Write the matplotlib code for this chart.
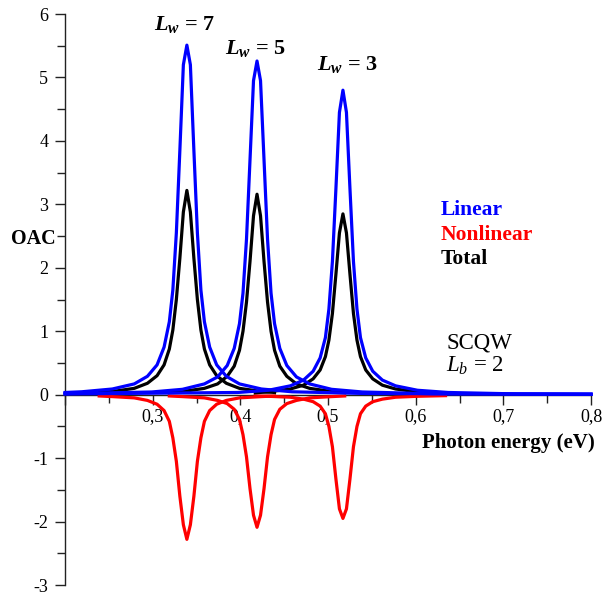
import matplotlib
matplotlib.use("Agg")
import matplotlib.pyplot as plt
from matplotlib.ticker import MultipleLocator, FuncFormatter

plt.rcParams["font.family"] = ["Liberation Serif", "DejaVu Serif"]
plt.rcParams["mathtext.fontset"] = "custom"
plt.rcParams["mathtext.rm"] = "Liberation Serif"
plt.rcParams["mathtext.it"] = "Liberation Serif:italic"
plt.rcParams["mathtext.bf"] = "Liberation Serif:bold"
plt.rcParams["mathtext.bfit"] = "Liberation Serif:italic:bold"
plt.rcParams["axes.unicode_minus"] = False

# values
# Lw = 7
x_lin_7 = [0.200, 0.219, 0.254, 0.279, 0.294, 0.305, 0.313, 0.319, 0.323, 0.327, 0.331, 0.335, 0.339,
           0.343, 0.347, 0.351, 0.355, 0.359, 0.365, 0.373, 0.384, 0.399, 0.424, 0.459, 0.539, 0.800]
linear_7 = [0.035, 0.046, 0.09, 0.17, 0.29, 0.47, 0.75, 1.15, 1.65, 2.55, 3.85, 5.20, 5.51,
            5.20, 3.85, 2.55, 1.65, 1.15, 0.75, 0.47, 0.29, 0.17, 0.09, 0.046, 0.02, 0.006]
x_nl_7 = [0.239, 0.254, 0.279, 0.294, 0.305, 0.313, 0.319, 0.323, 0.327, 0.331, 0.335, 0.339,
          0.343, 0.347, 0.351, 0.355, 0.359, 0.365, 0.373, 0.384, 0.399, 0.424, 0.439]
total_7 = [0.035, 0.05, 0.10, 0.18, 0.30, 0.47, 0.72, 1.02, 1.50, 2.15, 2.88, 3.22,
           2.88, 2.15, 1.50, 1.02, 0.72, 0.47, 0.30, 0.18, 0.10, 0.05, 0.035]
nonlinear_7 = [-0.02, -0.03, -0.05, -0.09, -0.15, -0.25, -0.42, -0.68, -1.05, -1.60, -2.05, -2.28,
               -2.05, -1.60, -1.05, -0.68, -0.42, -0.25, -0.15, -0.09, -0.05, -0.03, -0.02]

# Lw = 5
x_lin_5 = [0.200, 0.299, 0.334, 0.359, 0.374, 0.385, 0.393, 0.399, 0.403, 0.407, 0.411, 0.415, 0.419,
           0.423, 0.427, 0.431, 0.435, 0.439, 0.445, 0.453, 0.464, 0.479, 0.504, 0.539, 0.619, 0.800]
linear_5 = [0.015, 0.043, 0.085, 0.17, 0.28, 0.46, 0.73, 1.12, 1.60, 2.45, 3.70, 4.95, 5.26,
            4.95, 3.70, 2.45, 1.60, 1.12, 0.73, 0.46, 0.28, 0.17, 0.085, 0.043, 0.015, 0.008]
x_nl_5 = [0.319, 0.334, 0.359, 0.374, 0.385, 0.393, 0.399, 0.403, 0.407, 0.411, 0.415, 0.419,
          0.423, 0.427, 0.431, 0.435, 0.439, 0.445, 0.453, 0.464, 0.479, 0.504, 0.519]
total_5 = [0.035, 0.05, 0.10, 0.17, 0.29, 0.45, 0.70, 1.00, 1.46, 2.10, 2.82, 3.16,
           2.82, 2.10, 1.46, 1.00, 0.70, 0.45, 0.29, 0.17, 0.10, 0.05, 0.035]
nonlinear_5 = [-0.02, -0.03, -0.05, -0.09, -0.14, -0.23, -0.39, -0.63, -0.98, -1.48, -1.90, -2.09,
               -1.90, -1.48, -0.98, -0.63, -0.39, -0.23, -0.14, -0.09, -0.05, -0.03, -0.02]

# Lw = 3
x_lin_3 = [0.200, 0.397, 0.432, 0.457, 0.472, 0.483, 0.491, 0.497, 0.501, 0.505, 0.509, 0.513, 0.517,
           0.521, 0.525, 0.529, 0.533, 0.537, 0.543, 0.551, 0.562, 0.577, 0.602, 0.637, 0.717, 0.800]
linear_3 = [0.012, 0.035, 0.07, 0.14, 0.23, 0.37, 0.58, 0.90, 1.35, 2.10, 3.25, 4.45, 4.80,
            4.45, 3.25, 2.10, 1.35, 0.90, 0.58, 0.37, 0.23, 0.14, 0.07, 0.035, 0.012, 0.01]
x_nl_3 = [0.417, 0.432, 0.457, 0.472, 0.483, 0.491, 0.497, 0.501, 0.505, 0.509, 0.513, 0.517,
          0.521, 0.525, 0.529, 0.533, 0.537, 0.543, 0.551, 0.562, 0.577, 0.602, 0.634]
total_3 = [0.03, 0.045, 0.09, 0.15, 0.25, 0.39, 0.60, 0.86, 1.28, 1.90, 2.55, 2.85,
           2.55, 1.90, 1.28, 0.86, 0.60, 0.39, 0.25, 0.15, 0.09, 0.045, 0.025]
nonlinear_3 = [-0.02, -0.025, -0.04, -0.07, -0.11, -0.18, -0.30, -0.50, -0.82, -1.33, -1.80, -1.95,
               -1.80, -1.33, -0.82, -0.50, -0.30, -0.18, -0.11, -0.07, -0.04, -0.025, -0.015]

well_labels = ["7", "5", "3"]

BLUE = "#0000ff"
RED = "#ff0000"
LW = 2.3

fig = plt.figure(figsize=(6.03, 5.98), dpi=100)
ax = fig.add_axes([0.1078, 0.0217, 0.8724, 0.9548])

for xn, yn in [(x_nl_7, nonlinear_7), (x_nl_5, nonlinear_5), (x_nl_3, nonlinear_3)]:
    ax.plot(xn, yn, color=RED, lw=LW, clip_on=False)
for xn, yt in [(x_nl_7, total_7), (x_nl_5, total_5), (x_nl_3, total_3)]:
    ax.plot(xn, yt, color="black", lw=LW, clip_on=False)
for xl, yl in [(x_lin_7, linear_7), (x_lin_5, linear_5), (x_lin_3, linear_3)]:
    ax.plot(xl, yl, color=BLUE, lw=LW, clip_on=False)

ax.set_xlim(0.2, 0.8)
ax.set_ylim(-3, 6)

# axes crossing at y = 0
ax.spines["bottom"].set_position(("data", 0))
ax.spines["top"].set_visible(False)
ax.spines["right"].set_visible(False)
for s in ["bottom", "left"]:
    ax.spines[s].set_linewidth(1.0)
    ax.spines[s].set_color("#222222")
    ax.spines[s].set_zorder(1)

ax.xaxis.set_major_locator(MultipleLocator(0.1))
ax.xaxis.set_minor_locator(MultipleLocator(0.05))
ax.yaxis.set_major_locator(MultipleLocator(1))
ax.yaxis.set_minor_locator(MultipleLocator(0.5))
ax.xaxis.set_major_formatter(FuncFormatter(
    lambda v, p: "" if v < 0.25 else ("%.1f" % v).replace(".", ",")))
ax.yaxis.set_major_formatter(FuncFormatter(lambda v, p: "%d" % round(v)))
ax.tick_params(axis="both", which="major", direction="out", length=7, width=1.0,
               labelsize=13, color="#222222")
ax.tick_params(axis="both", which="minor", direction="out", length=6, width=1.0,
               color="#222222")
ax.tick_params(axis="x", pad=3)
ax.tick_params(axis="y", pad=5)

# axis labels
ax.text(0.1895, 2.45, "OAC", ha="right", va="center", fontsize=14.5, fontweight="bold")
ax.text(0.607, -0.76, "Photon energy (eV)", ha="left", va="center", fontsize=15,
        fontweight="bold")

# legend-like coloured words
ax.text(0.628, 2.91, "Linear", color=BLUE, ha="left", va="center", fontsize=15.5,
        fontweight="bold")
ax.text(0.628, 2.52, "Nonlinear", color=RED, ha="left", va="center", fontsize=15.5,
        fontweight="bold")
ax.text(0.628, 2.14, "Total", color="black", ha="left", va="center", fontsize=15.5,
        fontweight="bold")

ax.text(0.635, 0.82, "SCQW", ha="left", va="center", fontsize=16.5)
ax.text(0.635, 0.45, r"$L_b$ = 2", ha="left", va="center", fontsize=16.5)

# well width labels
well_pos = [(0.301, 5.83), (0.383, 5.45), (0.487, 5.2)]
for (tx, ty), lab in zip(well_pos, well_labels):
    ax.text(tx, ty, r"$\mathbfit{L}_{\mathbfit{w}}$" + " = " + lab, ha="left",
            va="center", fontsize=16, fontweight="bold")

fig.savefig("out.png", dpi=100)
